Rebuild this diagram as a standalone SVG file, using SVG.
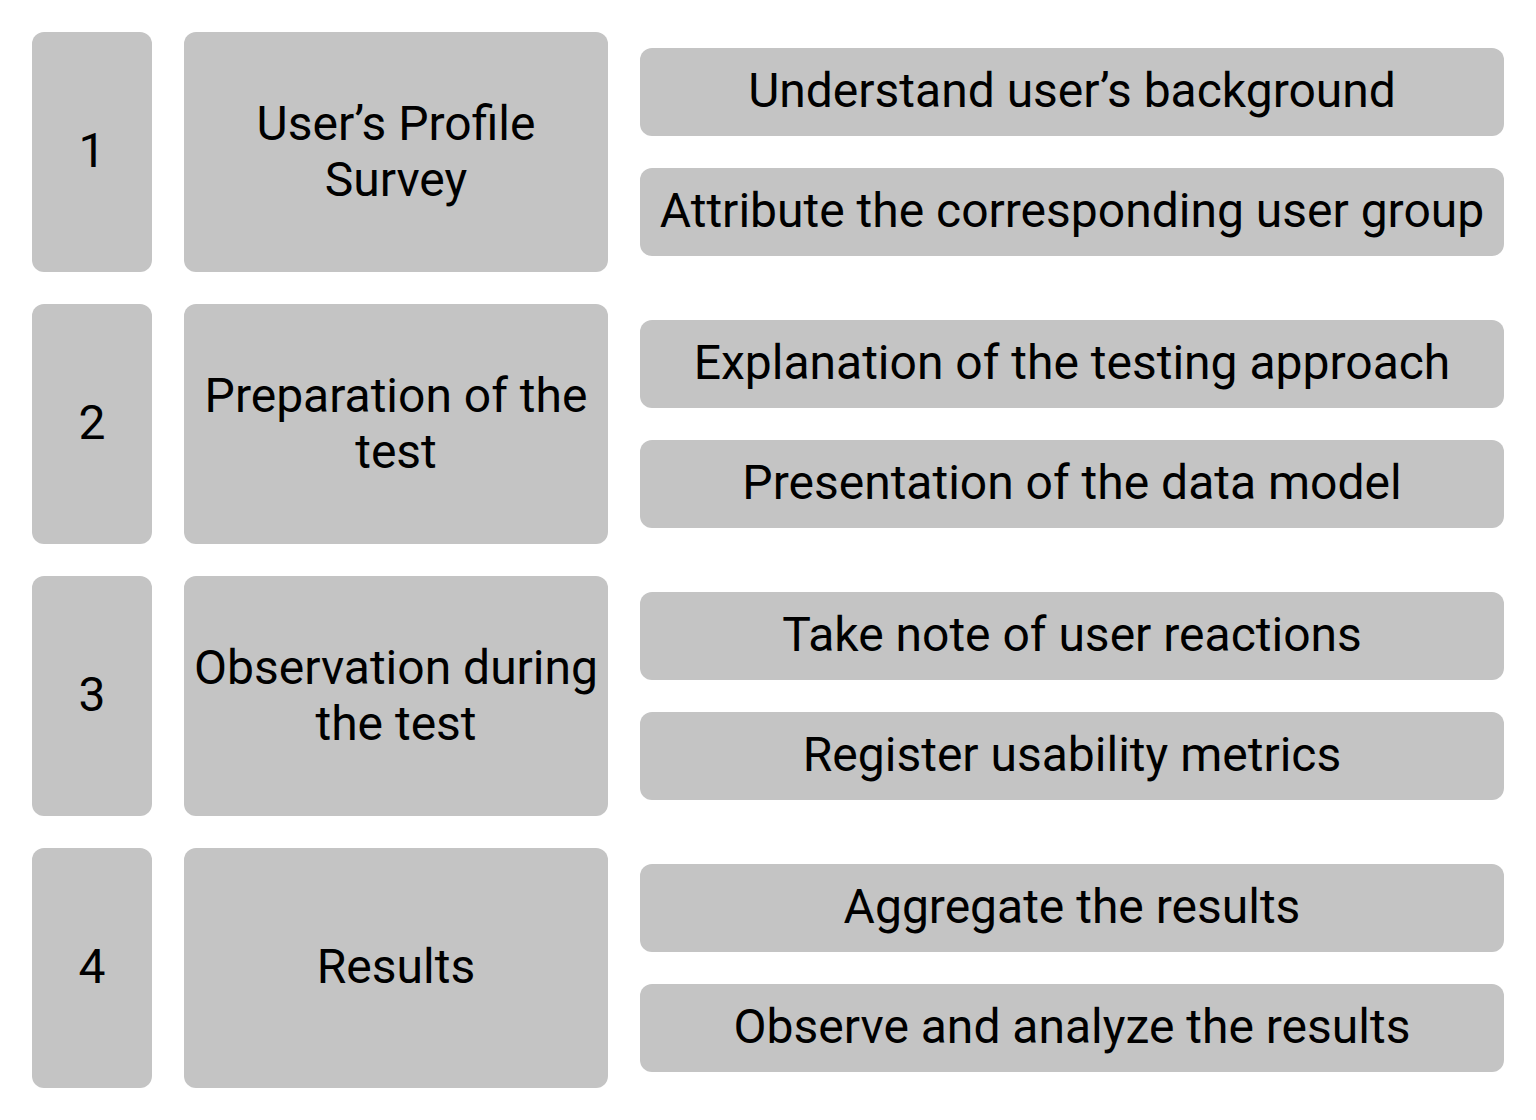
<svg xmlns="http://www.w3.org/2000/svg" width="1536" height="1120" viewBox="0 0 1536 1120">
  <style>
    .box { fill: #c4c4c4; }
    .t { font-family: Roboto, "Noto Sans", sans-serif; font-size: 48px; fill: #000; text-anchor: middle; }
  </style>
  <rect width="1536" height="1120" fill="#ffffff"/>

  <!-- Step 1 -->
  <g id="step1">
    <rect class="box" x="32" y="32" width="120" height="240" rx="12"/>
    <text class="t" x="92" y="167">1</text>
  </g>
  <g id="phase1">
    <rect class="box" x="184" y="32" width="424" height="240" rx="12"/>
    <text class="t" x="396" y="140">User’s Profile</text>
    <text class="t" x="396" y="196">Survey</text>
  </g>
  <g id="task1a">
    <rect class="box" x="640" y="48" width="864" height="88" rx="12"/>
    <text class="t" x="1072" y="107">Understand user’s background</text>
  </g>
  <g id="task1b">
    <rect class="box" x="640" y="168" width="864" height="88" rx="12"/>
    <text class="t" x="1072" y="227">Attribute the corresponding user group</text>
  </g>

  <!-- Step 2 -->
  <g id="step2">
    <rect class="box" x="32" y="304" width="120" height="240" rx="12"/>
    <text class="t" x="92" y="439">2</text>
  </g>
  <g id="phase2">
    <rect class="box" x="184" y="304" width="424" height="240" rx="12"/>
    <text class="t" x="396" y="412">Preparation of the</text>
    <text class="t" x="396" y="468">test</text>
  </g>
  <g id="task2a">
    <rect class="box" x="640" y="320" width="864" height="88" rx="12"/>
    <text class="t" x="1072" y="379">Explanation of the testing approach</text>
  </g>
  <g id="task2b">
    <rect class="box" x="640" y="440" width="864" height="88" rx="12"/>
    <text class="t" x="1072" y="499">Presentation of the data model</text>
  </g>

  <!-- Step 3 -->
  <g id="step3">
    <rect class="box" x="32" y="576" width="120" height="240" rx="12"/>
    <text class="t" x="92" y="711">3</text>
  </g>
  <g id="phase3">
    <rect class="box" x="184" y="576" width="424" height="240" rx="12"/>
    <text class="t" x="396" y="684">Observation during</text>
    <text class="t" x="396" y="740">the test</text>
  </g>
  <g id="task3a">
    <rect class="box" x="640" y="592" width="864" height="88" rx="12"/>
    <text class="t" x="1072" y="651">Take note of user reactions</text>
  </g>
  <g id="task3b">
    <rect class="box" x="640" y="712" width="864" height="88" rx="12"/>
    <text class="t" x="1072" y="771">Register usability metrics</text>
  </g>

  <!-- Step 4 -->
  <g id="step4">
    <rect class="box" x="32" y="848" width="120" height="240" rx="12"/>
    <text class="t" x="92" y="983">4</text>
  </g>
  <g id="phase4">
    <rect class="box" x="184" y="848" width="424" height="240" rx="12"/>
    <text class="t" x="396" y="983">Results</text>
  </g>
  <g id="task4a">
    <rect class="box" x="640" y="864" width="864" height="88" rx="12"/>
    <text class="t" x="1072" y="923">Aggregate the results</text>
  </g>
  <g id="task4b">
    <rect class="box" x="640" y="984" width="864" height="88" rx="12"/>
    <text class="t" x="1072" y="1043">Observe and analyze the results</text>
  </g>

  <g id="connectors"/>
</svg>
